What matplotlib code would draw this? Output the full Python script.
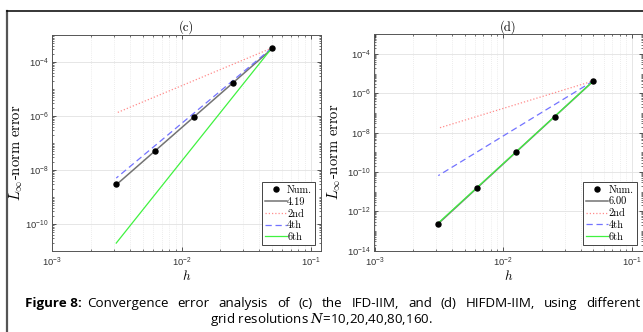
import matplotlib
matplotlib.use('Agg')
import matplotlib.pyplot as plt
import numpy as np
from matplotlib.ticker import LogLocator, FixedLocator, NullFormatter, LogFormatterSciNotation
from matplotlib.lines import Line2D
from matplotlib.font_manager import FontProperties

# ---------------- data ----------------
h = [0.05, 0.025, 0.0125, 0.00625, 0.003125]
err_c = [3.3e-4, 1.6e-5, 8.9e-7, 5.0e-8, 3.0e-9]
err_d = [4.3e-6, 6.6e-8, 1.0e-9, 1.55e-11, 2.4e-13]
fit_labels = ['4.19', '6.00']
ref_orders = [2, 4, 6]
ref_labels = ['2nd', '4th', '6th']
titles = ['(c)', '(d)']
yticks_c = [1e-10, 1e-8, 1e-6, 1e-4]
yticks_d = [1e-14, 1e-12, 1e-10, 1e-8, 1e-6, 1e-4]
xticks = [1e-3, 1e-2, 1e-1]
ylims = [(1e-11, 1e-3), (1e-14, 1e-3)]
xlim = (1e-3, 0.12)
caption_bold = 'Figure 8:'
caption_rest = 'Convergence error analysis of (c) the IFD-IIM, and (d) HIFDM-IIM, using different'
caption_line2 = 'grid resolutions $N$=10,20,40,80,160.'

plt.rcParams['font.family'] = ['Liberation Sans', 'DejaVu Sans']
plt.rcParams['mathtext.fontset'] = 'custom'
plt.rcParams['mathtext.rm'] = 'Liberation Sans'
plt.rcParams['mathtext.it'] = 'Liberation Sans:italic'

W, H = 643, 332
fig = plt.figure(figsize=(W / 100, H / 100), dpi=100)

serif = 'cmr10'
tick_col = '#3a3a3a'
ref_styles = [
    dict(color=(1.0, 0.55, 0.55), ls=(0, (1, 1.6)), lw=0.9),
    dict(color=(0.45, 0.45, 1.0), ls=(0, (5, 3)), lw=0.9),
    dict(color=(0.25, 0.95, 0.25), ls='-', lw=0.9),
]

rects = [
    (52.3 / W, 1 - 251 / H, (321 - 52.3) / W, (251 - 35) / H),
    (374.5 / W, 1 - 250.7 / H, (642.5 - 374.5) / W, (250.7 - 34.3) / H),
]
ylabel_x = [-0.100, -0.116]
errs = [err_c, err_d]
ytks = [yticks_c, yticks_d]

hh = np.array(h)
for i in range(2):
    ax = fig.add_axes(rects[i])
    e = np.array(errs[i])
    ax.set_xscale('log')
    ax.set_yscale('log')
    ax.plot(hh, e, 'o', color='black', ms=3.6, zorder=6, label='Num.', ls='none')
    p = np.polyfit(np.log10(hh), np.log10(e), 1)
    ax.plot(hh, 10 ** np.polyval(p, np.log10(hh)), color=(0.45, 0.45, 0.45), lw=1.1,
            label=fit_labels[i], zorder=3)
    for k, lab, st in zip(ref_orders, ref_labels, ref_styles):
        ax.plot(hh, e[0] * (hh / hh[0]) ** k, label=lab, zorder=4, **st)
    ax.set_xlim(*xlim)
    ax.set_ylim(*ylims[i])
    ax.xaxis.set_major_locator(FixedLocator(xticks))
    ax.xaxis.set_minor_locator(LogLocator(base=10, subs=np.arange(2, 10), numticks=100))
    ax.xaxis.set_minor_formatter(NullFormatter())
    ax.yaxis.set_major_locator(FixedLocator(ytks[i]))
    ax.yaxis.set_minor_locator(LogLocator(base=10, subs=np.arange(1, 10), numticks=200))
    ax.yaxis.set_minor_formatter(NullFormatter())
    ax.xaxis.set_major_formatter(LogFormatterSciNotation())
    ax.yaxis.set_major_formatter(LogFormatterSciNotation())
    ax.tick_params(which='both', direction='in', top=True, right=True, colors=tick_col,
                   labelsize=6.8, labelcolor='#333333')
    ax.tick_params(which='major', length=3, width=0.6, pad=2.5)
    ax.tick_params(which='minor', length=1.6, width=0.5)
    ax.tick_params(axis='x', which='major', pad=3.5)
    ax.grid(True, which='major', color='#e2e2e2', lw=0.6, ls='-', zorder=0)
    ax.xaxis.grid(True, which='minor', color='#e6e6e6', lw=0.6, ls=(0, (1, 1.5)))
    ax.set_axisbelow(True)
    for s in ax.spines.values():
        s.set_color('#555555')
        s.set_linewidth(0.7)
    ax.set_title(titles[i], fontproperties=FontProperties(family=serif, size=9), pad=3)
    ax.set_xlabel('$h$', fontproperties=FontProperties(size=9.5, math_fontfamily='cm'),
                  labelpad=0)
    ax.set_ylabel(r'$L_\infty$-norm error',
                  fontproperties=FontProperties(family=serif, size=10.5, math_fontfamily='cm'))
    ax.yaxis.set_label_coords(ylabel_x[i], 0.456)
    leg = ax.legend(loc='lower right', prop=FontProperties(family=serif, size=7.5),
                    fancybox=False, framealpha=1, edgecolor='#444444',
                    handlelength=2.1, handletextpad=0.05, borderpad=0.3,
                    labelspacing=0.22, borderaxespad=0.55, markerscale=1.0)
    leg.get_frame().set_linewidth(0.7)

# frame lines of the screenshot page
fig.add_artist(Line2D([7 / W, 7 / W], [0, 1 - 11 / H], color='#555555', lw=1.6))
fig.add_artist(Line2D([7 / W, 1], [1 - 11 / H, 1 - 11 / H], color='black', lw=1.1))

# caption (first line justified, second centred)
cap_font = ['Open Sans', 'Noto Sans', 'DejaVu Sans']
cap_size = 9.6
base1 = 1 - 307.0 / H
base2 = 1 - 323.0 / H
fig.text(81.7 / W, base1, caption_bold, family=cap_font, weight='bold',
         fontsize=cap_size, va='baseline', ha='right')
fig.canvas.draw()
r = fig.canvas.get_renderer()
words = caption_rest.split(' ')
objs = [fig.text(0, base1, wd, family=cap_font, fontsize=cap_size, va='baseline', ha='left')
        for wd in words]
widths = [o.get_window_extent(r).width for o in objs]
x0, x1 = 86.7, 641.0
gap = (x1 - x0 - sum(widths)) / (len(words) - 1)
x = x0
for o, wdt in zip(objs, widths):
    o.set_x(x / W)
    x += wdt + gap
fig.text(321.5 / W, base2, caption_line2, family=cap_font, fontsize=cap_size,
         va='baseline', ha='center', math_fontfamily='dejavuserif')

fig.savefig('out.png', dpi=100)
